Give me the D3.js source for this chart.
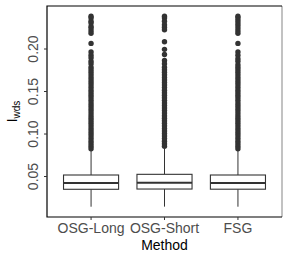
<!DOCTYPE html>
<html>
<head>
<meta charset="utf-8">
<script src="https://cdn.jsdelivr.net/npm/d3@7"></script>
<style>
  body { margin: 0; background: #fff; }
  text { font-family: "Liberation Sans", Arial, sans-serif; }
</style>
</head>
<body>
<svg id="chart" width="290" height="260"></svg>
<script>
// Box plot of I_wds per method

const methods = ["OSG-Long", "OSG-Short", "FSG"];
const lowerWhisker = [0.0139, 0.0140, 0.0139];
const q1 = [0.0344, 0.0347, 0.0345];
const medians = [0.0418, 0.0421, 0.0418];
const q3 = [0.0512, 0.0520, 0.0512];
const upperWhisker = [0.0800, 0.0820, 0.0800];

const outliersLong = [0.238, 0.236, 0.232, 0.230, 0.226, 0.224, 0.221, 0.218,
  0.206, 0.196, 0.192, 0.189, 0.185, 0.182, 0.178, 0.175, 0.172, 0.169, 0.166,
  0.163, 0.160, 0.157, 0.154, 0.151, 0.148, 0.145, 0.142, 0.139, 0.136, 0.133,
  0.130, 0.127, 0.124, 0.121, 0.118, 0.115, 0.112, 0.109, 0.106, 0.103, 0.100,
  0.097, 0.094, 0.091, 0.088, 0.085, 0.082];
const outliersShort = [0.238, 0.236, 0.232, 0.228, 0.225, 0.222, 0.208, 0.199,
  0.193, 0.186, 0.182, 0.178, 0.175, 0.172, 0.169, 0.166, 0.163, 0.160, 0.157,
  0.154, 0.151, 0.148, 0.145, 0.142, 0.139, 0.136, 0.133, 0.130, 0.127, 0.124,
  0.121, 0.118, 0.115, 0.112, 0.109, 0.106, 0.103, 0.100, 0.097, 0.094, 0.091,
  0.088, 0.085];
const outliersFsg = [0.238, 0.236, 0.233, 0.230, 0.227, 0.224, 0.221, 0.218,
  0.206, 0.196, 0.192, 0.188, 0.185, 0.181, 0.178, 0.175, 0.172, 0.169, 0.166,
  0.163, 0.160, 0.157, 0.154, 0.151, 0.148, 0.145, 0.142, 0.139, 0.136, 0.133,
  0.130, 0.127, 0.124, 0.121, 0.118, 0.115, 0.112, 0.109, 0.106, 0.103, 0.100,
  0.097, 0.094, 0.091, 0.088, 0.085, 0.082];
const outliers = [outliersLong, outliersShort, outliersFsg];

const yTicks = [0.05, 0.10, 0.15, 0.20];

const boxes = methods.map((m, i) => ({
  method: m,
  lo: lowerWhisker[i],
  q1: q1[i],
  med: medians[i],
  q3: q3[i],
  hi: upperWhisker[i],
  out: outliers[i],
}));

const panel = { left: 47, top: 6, right: 282, bottom: 217 };
const svg = d3.select("#chart");
const ink = "#333333";

const x = d3
  .scaleBand()
  .domain(methods)
  .range([panel.left, panel.right])
  .paddingInner(0)
  .paddingOuter(0.1);

const y = d3
  .scaleLinear()
  .domain([0.0018, 0.25])
  .range([panel.bottom, panel.top]);

const boxW = x.bandwidth() * 0.75;

const g = svg
  .append("g")
  .selectAll("g")
  .data(boxes)
  .join("g")
  .attr("transform", (d) => `translate(${x(d.method) + x.bandwidth() / 2},0)`);

// whiskers
g.append("line")
  .attr("x1", 0).attr("x2", 0)
  .attr("y1", (d) => y(d.q3)).attr("y2", (d) => y(d.hi))
  .attr("stroke", ink).attr("stroke-width", 1);
g.append("line")
  .attr("x1", 0).attr("x2", 0)
  .attr("y1", (d) => y(d.q1)).attr("y2", (d) => y(d.lo))
  .attr("stroke", ink).attr("stroke-width", 1);

// outliers
g.selectAll("circle")
  .data((d) => d.out)
  .join("circle")
  .attr("cx", 0)
  .attr("cy", (v) => y(v))
  .attr("r", 2.7)
  .attr("fill", ink);

// box
g.append("rect")
  .attr("x", -boxW / 2)
  .attr("width", boxW)
  .attr("y", (d) => y(d.q3))
  .attr("height", (d) => y(d.q1) - y(d.q3))
  .attr("fill", "#fff")
  .attr("stroke", ink)
  .attr("stroke-width", 1.1);
g.append("line")
  .attr("x1", -boxW / 2).attr("x2", boxW / 2)
  .attr("y1", (d) => y(d.med)).attr("y2", (d) => y(d.med))
  .attr("stroke", ink).attr("stroke-width", 2.2);

// panel border
svg.append("line")
  .attr("x1", panel.right).attr("x2", panel.right)
  .attr("y1", panel.top).attr("y2", panel.bottom)
  .attr("stroke", "#999").attr("stroke-width", 1.2);
svg.append("path")
  .attr("d", `M${panel.right},${panel.top}H${panel.left}V${panel.bottom}H${panel.right}`)
  .attr("fill", "none")
  .attr("stroke", "#000")
  .attr("stroke-width", 1.2);

// y axis
const yAxis = svg
  .append("g")
  .attr("transform", `translate(${panel.left},0)`)
  .call(d3.axisLeft(y).tickValues(yTicks).tickFormat(d3.format(".2f")).tickSize(3).tickPadding(0));
yAxis.select(".domain").remove();
yAxis.selectAll(".tick line").attr("stroke", "#333");
yAxis.selectAll(".tick text")
  .attr("transform", "rotate(-90)")
  .attr("x", 0)
  .attr("y", -9)
  .attr("dy", 0)
  .attr("text-anchor", "middle")
  .attr("fill", "#4d4d4d")
  .style("font-size", "14px")
  .style("font-family", "Liberation Sans, Arial, sans-serif");

// x axis
const xAxis = svg
  .append("g")
  .attr("transform", `translate(0,${panel.bottom})`)
  .call(d3.axisBottom(x).tickSize(3).tickPadding(3));
xAxis.select(".domain").remove();
xAxis.selectAll(".tick line").attr("stroke", "#333");
xAxis.selectAll(".tick text")
  .attr("fill", "#4d4d4d")
  .style("font-size", "14px")
  .style("font-family", "Liberation Sans, Arial, sans-serif");

// titles
svg.append("text")
  .attr("x", (panel.left + panel.right) / 2)
  .attr("y", 250)
  .attr("text-anchor", "middle")
  .attr("fill", "#000")
  .style("font-size", "14px")
  .text("Method");

const yt = svg.append("text")
  .attr("transform", `translate(17,${(panel.top + panel.bottom) / 2}) rotate(-90)`)
  .attr("text-anchor", "middle")
  .attr("fill", "#000")
  .style("font-size", "14px");
yt.append("tspan").text("I");
yt.append("tspan").attr("dy", 3).style("font-size", "10px").text("wds");
</script>
</body>
</html>
